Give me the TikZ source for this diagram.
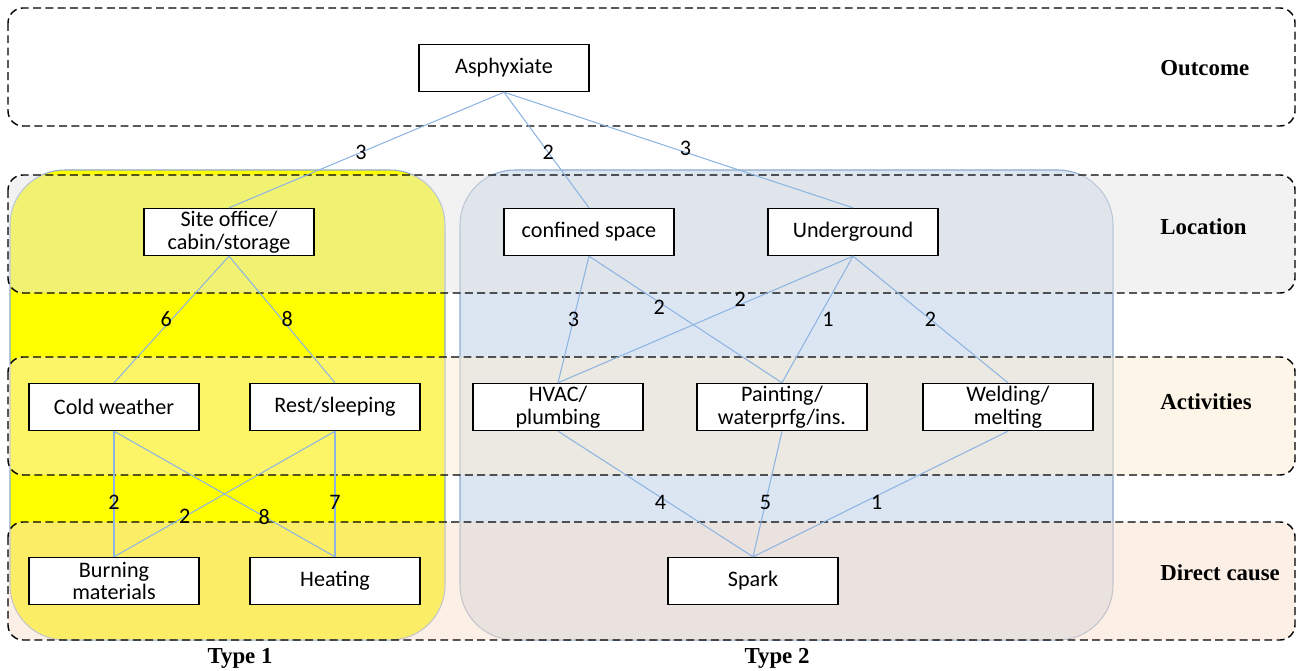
\documentclass[tikz,border=0pt]{standalone}
\usepackage{fontspec}
\setmainfont{Carlito}
\newfontfamily\timesfont{Liberation Serif}
\definecolor{typeone}{HTML}{FFFF00}
\definecolor{typetwo}{HTML}{DCE6F2}
\definecolor{typeline}{HTML}{8EAACB}
\definecolor{linkblue}{HTML}{8DB4E2}
\definecolor{locfill}{HTML}{E5E5E5}
\definecolor{actfill}{HTML}{FBEDD1}
\definecolor{causefill}{HTML}{F9DFCD}
\tikzset{
  box/.style={draw,fill=white,line width=0.8pt,minimum width=3.4cm,minimum height=0.94cm,
    align=center,inner sep=1pt,font=\fontsize{12.6}{13}\selectfont},
  link/.style={draw=linkblue,line width=0.6pt},
  num/.style={font=\fontsize{12.6}{13}\selectfont,inner sep=1pt},
  layer/.style={dash pattern=on 4.5pt off 2.5pt,line width=0.8pt,rounded corners=0.3cm},
  tag/.style={font=\timesfont\bfseries\fontsize{13}{15}\selectfont,inner sep=0pt},
  typebox/.style={draw=typeline,line width=0.6pt,rounded corners=1.1cm},
}
\begin{document}
\begin{tikzpicture}[x=0.02cm,y=-0.02cm]
      \useasboundingbox (0,0) rectangle (1297,671);
      % the two types
      \draw[typebox,fill=typeone] (10,170) rectangle (445,640);
      \draw[typebox,fill=typetwo] (460,170) rectangle (1113,640);
      % the four layers
      \draw[layer] (8,8) rectangle (1295,126);
      \draw[layer,fill=locfill,fill opacity=0.5] (8,175) rectangle (1295,293);
      \draw[layer,fill=actfill,fill opacity=0.5] (8,357) rectangle (1295,475);
      \draw[layer,fill=causefill,fill opacity=0.5] (8,522) rectangle (1295,640);
      % nodes
      \node[box] (asph) at (504,68) {Asphyxiate};
      \node[box] (site) at (229,232) {Site office/\\cabin/storage};
      \node[box] (conf) at (589,232) {confined space};
      \node[box] (under) at (853,232) {Underground};
      \node[box] (cold) at (114,407) {Cold weather};
      \node[box] (rest) at (335,407) {Rest/sleeping};
      \node[box] (hvac) at (558,407) {HVAC/\\plumbing};
      \node[box] (paint) at (782,407) {Painting/\\waterprfg/ins.};
      \node[box] (weld) at (1008,407) {Welding/\\melting};
      \node[box] (burn) at (114,581) {Burning\\materials};
      \node[box] (heat) at (335,581) {Heating};
      \node[box] (spark) at (753,581) {Spark};
      % links
      \draw[link] (asph.south) -- node[num,pos=0.52]{3} (site.north);
      \draw[link] (asph.south) -- node[num,pos=0.52]{2} (conf.north);
      \draw[link] (asph.south) -- node[num,pos=0.52,yshift=2pt]{3} (under.north);
      \draw[link] (site.south) -- node[num,pos=0.5,xshift=-3pt]{6} (cold.north);
      \draw[link] (site.south) -- node[num,pos=0.5,xshift=3pt]{8} (rest.north);
      \draw[link] (conf.south) -- node[num,pos=0.5]{3} (hvac.north);
      \draw[link] (conf.south) -- node[num,pos=0.4,xshift=-4pt]{2} (paint.north);
      \draw[link] (under.south) -- node[num,pos=0.37,xshift=-2pt,yshift=2pt]{2} (hvac.north);
      \draw[link] (under.south) -- node[num,pos=0.5,xshift=6pt]{1} (paint.north);
      \draw[link] (under.south) -- node[num,pos=0.5]{2} (weld.north);
      \draw[link] (cold.south) -- node[num,pos=0.57]{2} (burn.north);
      \draw[link] (cold.south) -- node[num,pos=0.68]{8} (heat.north);
      \draw[link] (rest.south) -- node[num,pos=0.68]{2} (burn.north);
      \draw[link] (rest.south) -- node[num,pos=0.57]{7} (heat.north);
      \draw[link] (hvac.south) -- node[num,pos=0.57,xshift=-5pt]{4} (spark.north);
      \draw[link] (paint.south) -- node[num,pos=0.57]{5} (spark.north);
      \draw[link] (weld.south) -- node[num,pos=0.57,xshift=8pt]{1} (spark.north);
      % layer and type names
      \node[tag,anchor=west] (outc) at (1160,68) {Outcome};
      \node[tag,anchor=west] (loca) at (1160,227) {Location};
      \node[tag,anchor=west] (acti) at (1160,402) {Activities};
      \node[tag,anchor=west] (dirc) at (1160,573) {Direct cause};
      \node[tag] (tone) at (240,658) {Type 1};
      \node[tag] (ttwo) at (777,658) {Type 2};
\end{tikzpicture}
\end{document}
